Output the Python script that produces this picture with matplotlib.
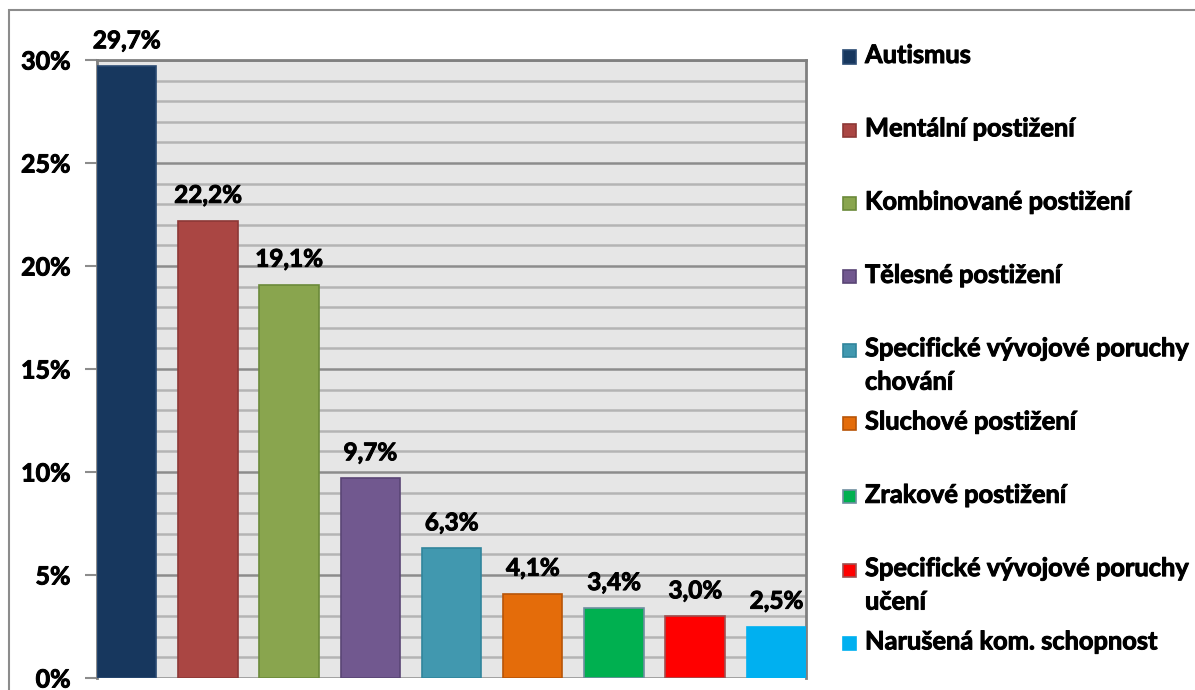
import matplotlib.pyplot as plt
import matplotlib.patheffects as pe
from matplotlib.patches import Rectangle
from matplotlib.ticker import MultipleLocator, FuncFormatter

categories = ['Autismus', 'Mentální postižení', 'Kombinované postižení',
              'Tělesné postižení', 'Specifické vývojové poruchy\nchování',
              'Sluchové postižení', 'Zrakové postižení',
              'Specifické vývojové poruchy\nučení', 'Narušená kom. schopnost']
values = [29.7, 22.2, 19.1, 9.7, 6.3, 4.1, 3.4, 3.0, 2.5]
value_labels = ['29,7%', '22,2%', '19,1%', '9,7%', '6,3%', '4,1%', '3,4%', '3,0%', '2,5%']
colors = ['#17375e', '#aa4643', '#89a54e', '#71588f', '#4198af',
          '#e46c0a', '#00b050', '#ff0000', '#00b0f0']
edges = ['#2a4a72', '#8c3836', '#6b8a3a', '#5a4575', '#31859c',
         '#b85508', '#6f8fa0', '#a05050', '#00b0f0']

plt.rcParams['font.family'] = ['Lato', 'DejaVu Sans']
WT = 'bold'
heavy = [pe.withStroke(linewidth=0.7, foreground='black')]

W, H = 1195, 690
fig = plt.figure(figsize=(W / 100, H / 100), dpi=100)

# outer chart border (right/bottom run off the image)
fig.patches.append(Rectangle((9 / W, -0.05), 1.2, (H - 10) / H + 0.05,
                             transform=fig.transFigure, fill=False,
                             edgecolor='#8c8c8c', lw=1.5))

ax = fig.add_axes([97 / W, (H - 678) / H, (806 - 97) / W, (678 - 60) / H])
ax.set_facecolor('#e6e6e6')
x = range(len(values))
ax.bar(x, values, width=0.73, color=colors, edgecolor=edges, lw=1.2, zorder=3)
ax.set_xlim(-0.365, len(values) - 1 + 0.365)
ax.set_ylim(0, 30)
ax.yaxis.set_major_locator(MultipleLocator(5))
ax.yaxis.set_minor_locator(MultipleLocator(1))
ax.yaxis.set_major_formatter(FuncFormatter(lambda v, p: f'{int(v)}%'))
ax.grid(which='major', axis='y', color='#8c8c8c', lw=1.8, zorder=1)
ax.grid(which='minor', axis='y', color='#b4b4b4', lw=1.8, zorder=1)
ax.set_xticks([])
ax.tick_params(axis='y', which='major', length=9, width=1.5, color='#8c8c8c',
               labelsize=18, pad=10)
ax.tick_params(axis='y', which='minor', length=0)
for s in ['left', 'right', 'top']:
    ax.spines[s].set_color('#808080')
    ax.spines[s].set_linewidth(2)
ax.spines['bottom'].set_visible(False)
for tl in ax.get_yticklabels():
    tl.set_fontweight(WT)
    tl.set_path_effects(heavy)

for i, (v, lab) in enumerate(zip(values, value_labels)):
    ax.annotate(lab, (i, v), xytext=(0, 10), textcoords='offset points',
                ha='center', va='bottom', fontsize=17.5, fontweight=WT,
                annotation_clip=False, path_effects=heavy)

# legend
y0, step = 57, 73.3
for i, (c, e, lab) in enumerate(zip(colors, edges, categories)):
    yc = y0 + i * step
    fig.patches.append(Rectangle((843 / W, (H - yc - 6.5) / H), 13 / W, 13 / H,
                                 transform=fig.transFigure, facecolor=c,
                                 edgecolor=e, lw=1.2))
    fig.text(865 / W, (H - yc + 13) / H, lab, fontsize=18.3, fontweight=WT,
             va='top', ha='left', linespacing=1.55, path_effects=heavy)

fig.savefig('out.png', dpi=100)
